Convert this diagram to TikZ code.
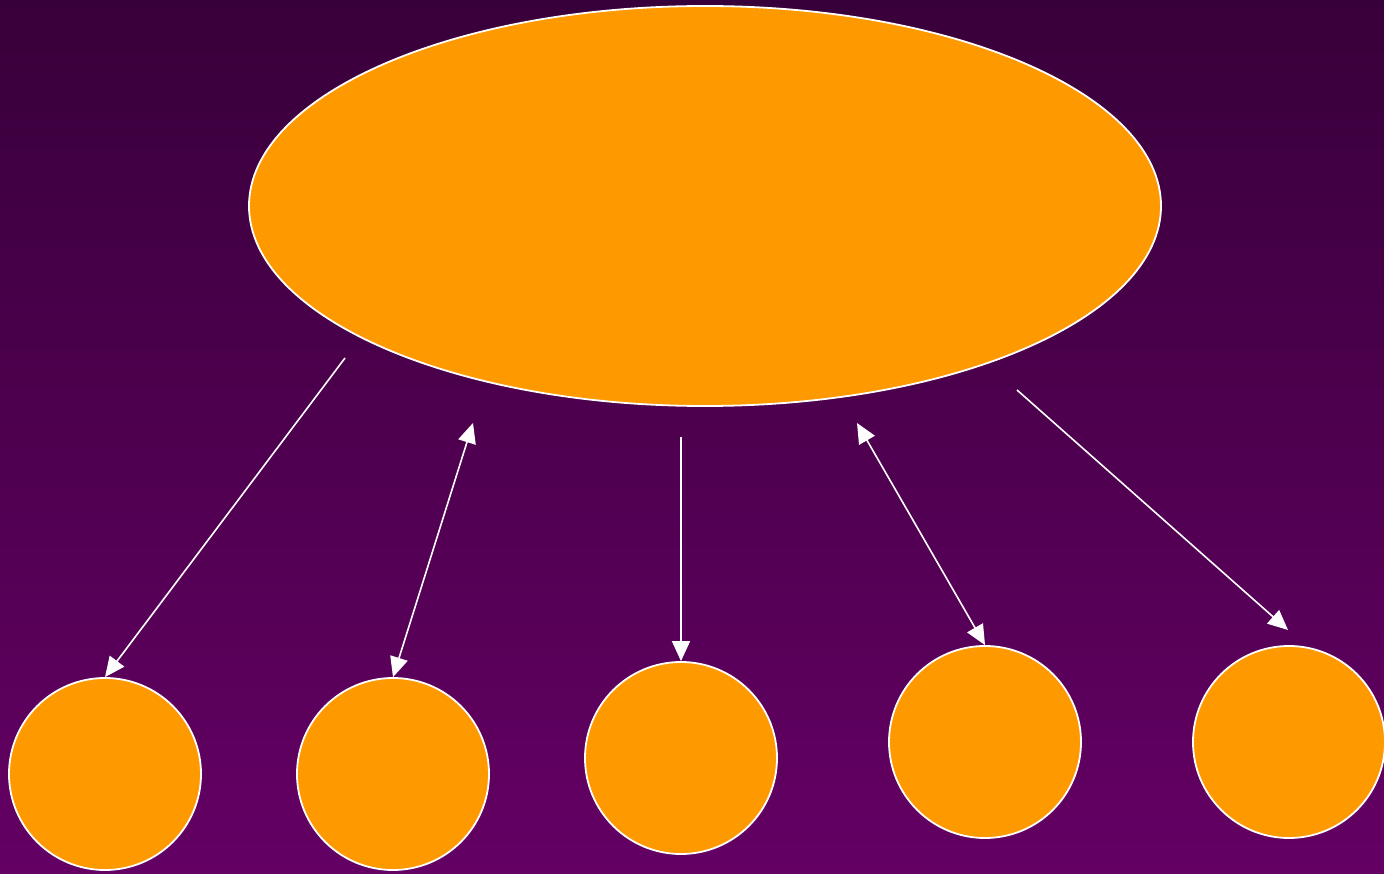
\documentclass[tikz,border=0pt]{standalone}
\usetikzlibrary{arrows.meta,shapes.geometric}
\definecolor{bgtop}{RGB}{56,0,58}
\definecolor{bgbot}{RGB}{100,0,100}
\definecolor{fillor}{RGB}{255,153,0}
\tikzset{
  blob/.style={circle,fill=fillor,draw=white,line width=1.8pt,minimum size=192pt,inner sep=0pt},
  bigblob/.style={ellipse,fill=fillor,draw=white,line width=1.8pt,minimum width=912pt,minimum height=400pt,inner sep=0pt},
  conn/.style={draw=white,line width=1.6pt,-{Triangle[length=20pt,width=18pt]}},
  dconn/.style={draw=white,line width=1.6pt,{Triangle[length=20pt,width=18pt]}-{Triangle[length=20pt,width=18pt]}}
}
\begin{document}
\begin{tikzpicture}[x=1pt,y=1pt]
\useasboundingbox (0,0) rectangle (1384,-874);
\shade[top color=bgtop,bottom color=bgbot] (0,0) rectangle (1384,-874);
\node[bigblob] (top) at (705,-206) {};
\node[blob] (c1) at (105,-774) {};
\node[blob] (c2) at (393,-774) {};
\node[blob] (c3) at (681,-758) {};
\node[blob] (c4) at (985,-742) {};
\node[blob] (c5) at (1289,-742) {};
\coordinate (s1) at (345,-358);
\coordinate (s2) at (473,-423);
\coordinate (s3) at (681,-437);
\coordinate (s4) at (857,-423);
\coordinate (s5) at (1017,-390);
\coordinate (e5) at (1288,-630);
\draw[conn] (s1) -- (c1.north);
\draw[dconn] (s2) -- (c2.north);
\draw[conn] (s3) -- (c3.north);
\draw[dconn] (s4) -- (c4.north);
\draw[conn] (s5) -- (e5);
\end{tikzpicture}
\end{document}
